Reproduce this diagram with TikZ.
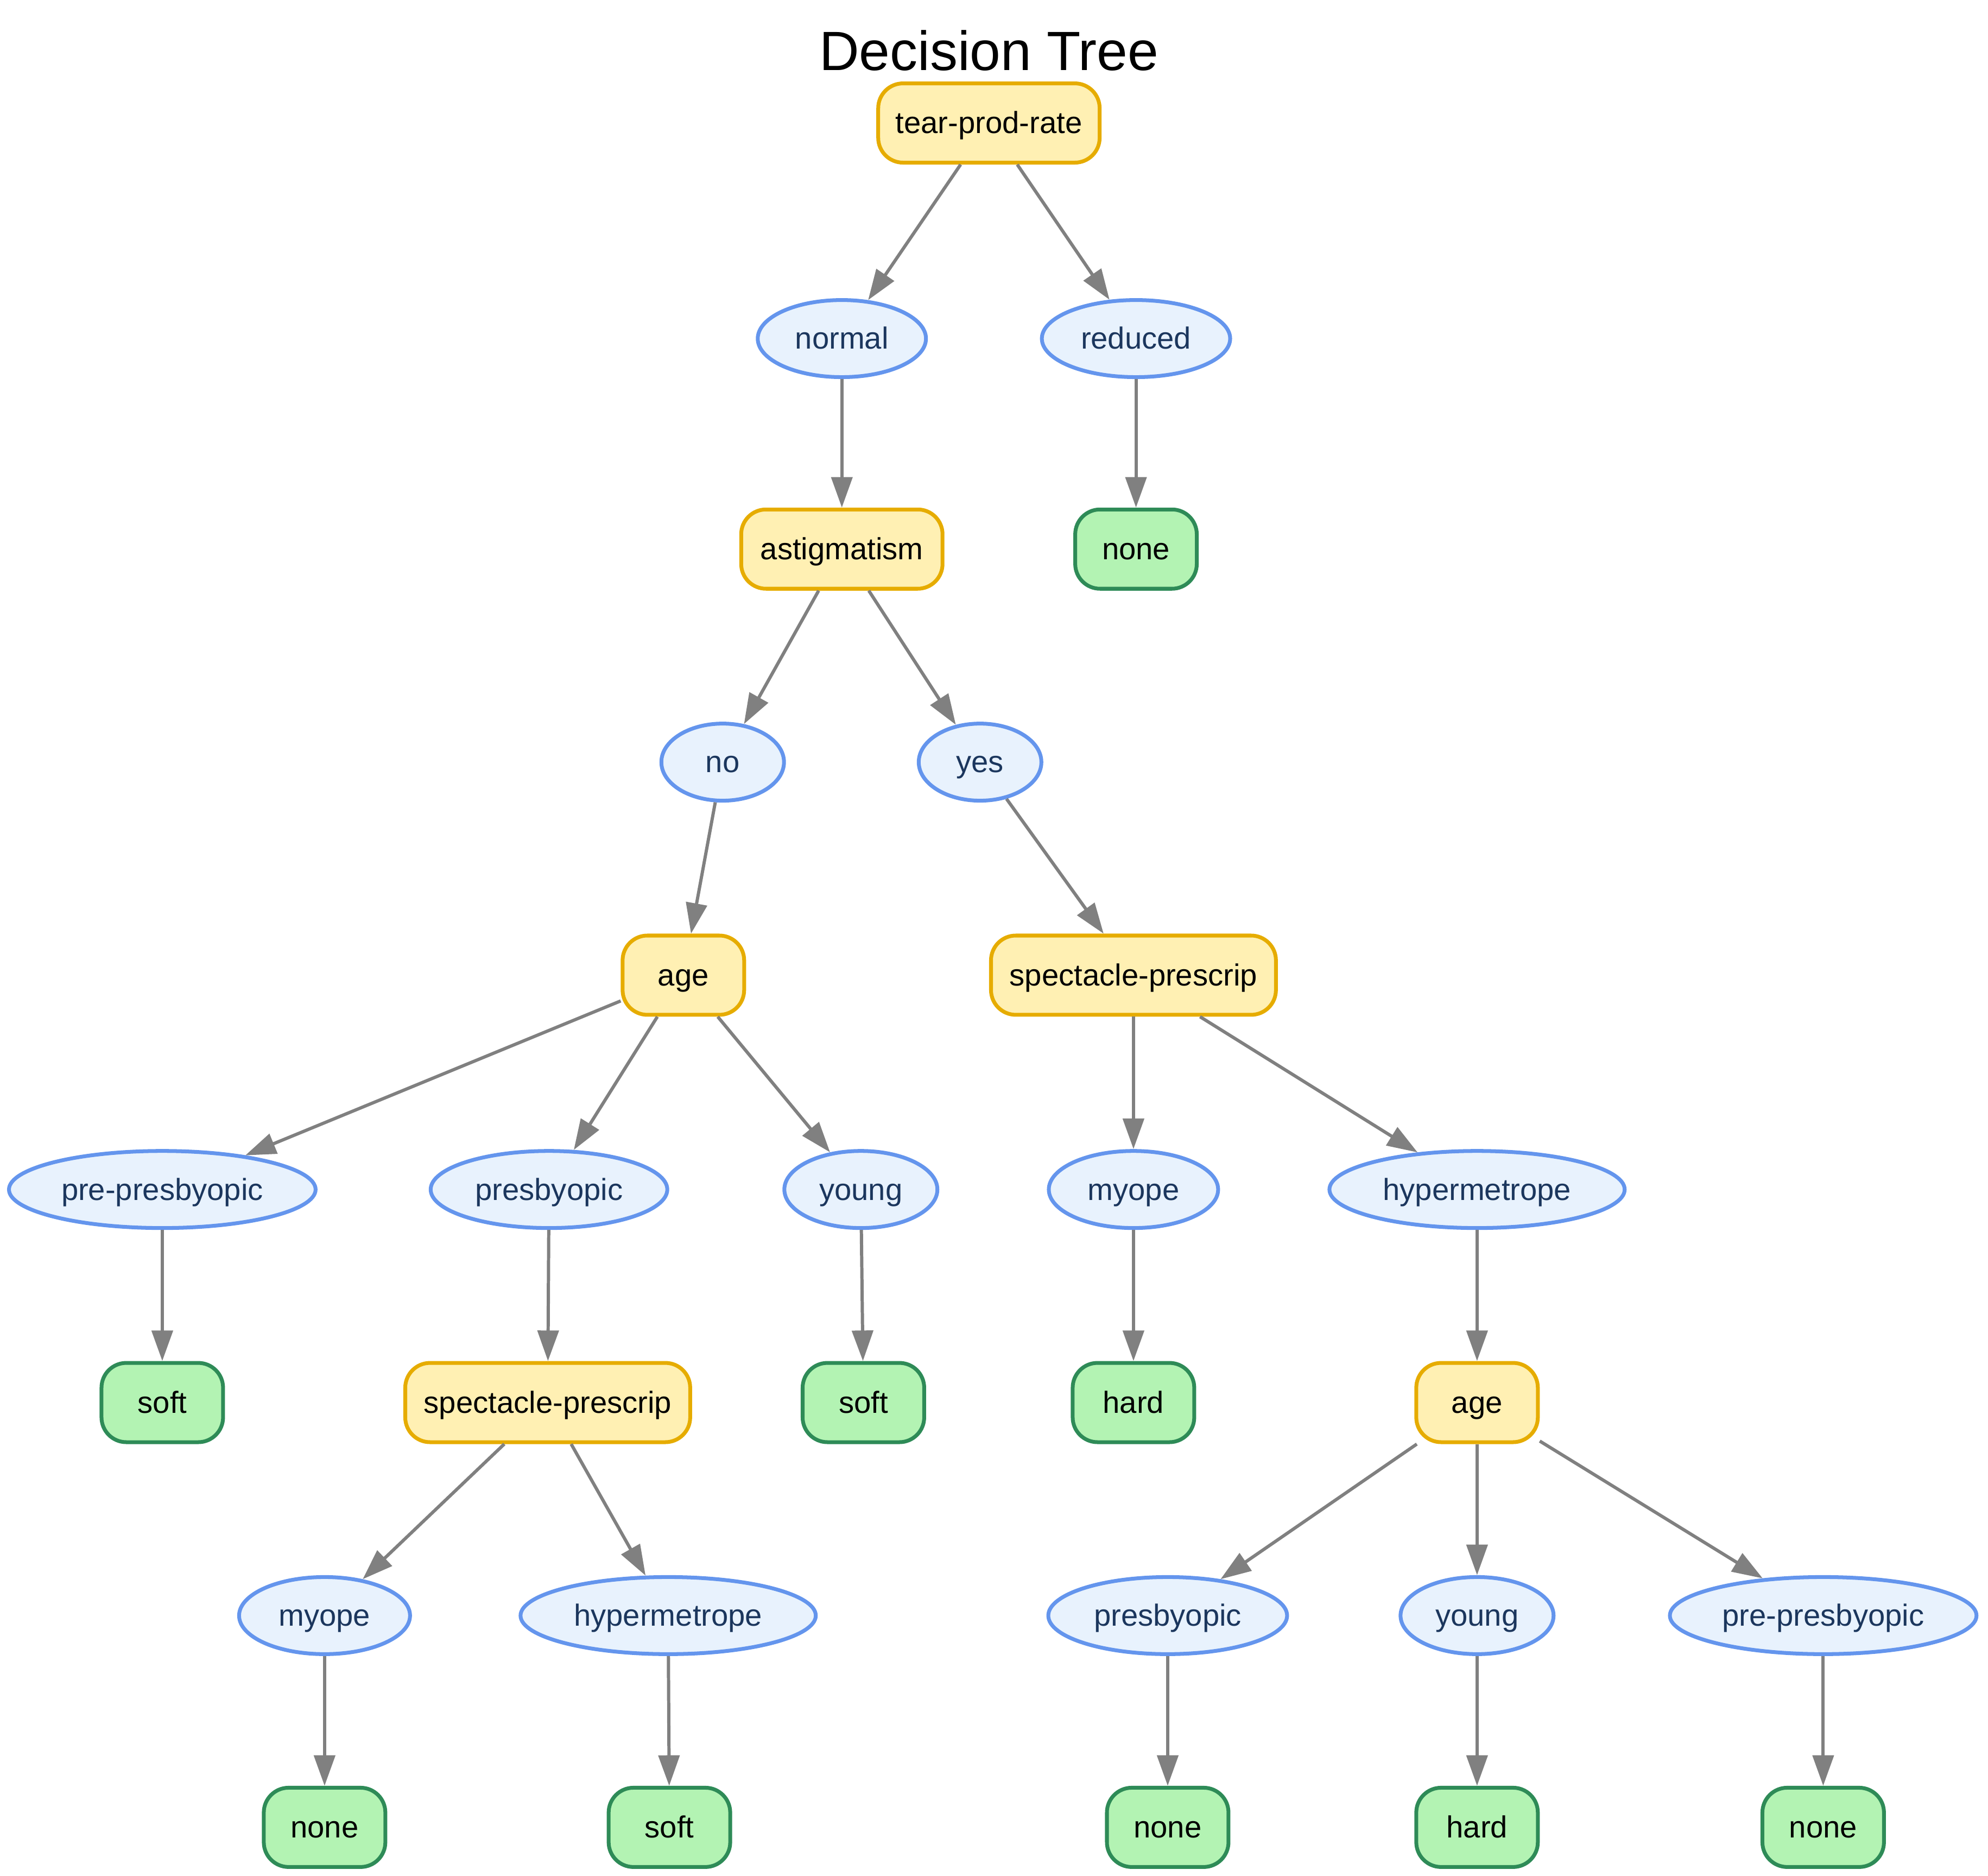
\documentclass[tikz,border=0pt]{standalone}
\usepackage{fontspec}
\setmainfont{Liberation Sans}
\usetikzlibrary{shapes.geometric,arrows.meta}
\definecolor{decfill}{HTML}{FFF0B3}
\definecolor{decdraw}{HTML}{E6AC00}
\definecolor{valfill}{HTML}{E8F2FD}
\definecolor{valdraw}{HTML}{6495ED}
\definecolor{valtext}{HTML}{1B365D}
\definecolor{leaffill}{HTML}{B3F3B3}
\definecolor{leafdraw}{HTML}{2E8B57}
\definecolor{edgecol}{HTML}{808080}
\tikzset{
  lbl/.style={font=\fontsize{16}{19}\selectfont, text height=13pt, text depth=2pt, inner sep=0pt},
  decision/.style={lbl, rectangle, rounded corners=13pt, draw=decdraw, fill=decfill, line width=2pt,
    minimum height=1.46cm, minimum width=2.24cm, text=black},
  leafbox/.style={lbl, rectangle, rounded corners=13pt, draw=leafdraw, fill=leaffill, line width=2pt,
    minimum height=1.46cm, minimum width=2.24cm, text=black},
  val/.style={lbl, ellipse, draw=valdraw, fill=valfill, line width=2pt,
    minimum height=1.42cm, text=valtext},
  edge/.style={draw=edgecol, line width=1.7pt, -{Triangle[length=16pt,width=11pt]}},
  titlestyle/.style={font=\fontsize{29}{34}\selectfont, text=black}
}
\begin{document}
\begin{tikzpicture}[x=0.023355cm, y=-0.023355cm]
\useasboundingbox (0,0) rectangle (1568,1479);
\node[titlestyle] (title) at (780,40) {Decision Tree};
\node[decision, minimum width=4.08cm] (tpr) at (780,97) {tear-prod-rate};
\node[val, minimum width=3.10cm] (normal) at (664,267) {normal};
\node[val, minimum width=3.47cm] (reduced) at (896,267) {reduced};
\node[decision, minimum width=3.71cm] (astig) at (664,433) {astigmatism};
\node[leafbox] (none1) at (896,433) {none};
\node[val, minimum width=2.26cm] (no) at (570,601) {no};
\node[val, minimum width=2.26cm] (yes) at (773,601) {yes};
\node[decision] (age1) at (539,769) {age};
\node[decision, minimum width=5.25cm] (spec1) at (894,769) {spectacle-prescrip};
\node[val, minimum width=5.65cm] (prep1) at (128,938) {pre-presbyopic};
\node[val, minimum width=4.36cm] (presb1) at (433,938) {presbyopic};
\node[val, minimum width=2.82cm] (young1) at (679,938) {young};
\node[val, minimum width=3.12cm] (myope1) at (894,938) {myope};
\node[val, minimum width=5.44cm] (hyper1) at (1165,938) {hypermetrope};
\node[leafbox] (soft1) at (128,1106) {soft};
\node[decision, minimum width=5.25cm] (spec2) at (432,1106) {spectacle-prescrip};
\node[leafbox] (soft2) at (681,1106) {soft};
\node[leafbox] (hard1) at (894,1106) {hard};
\node[decision] (age2) at (1165,1106) {age};
\node[val, minimum width=3.15cm] (myope2) at (256,1274) {myope};
\node[val, minimum width=5.44cm] (hyper2) at (527,1274) {hypermetrope};
\node[val, minimum width=4.40cm] (presb2) at (921,1274) {presbyopic};
\node[val, minimum width=2.82cm] (young2) at (1165,1274) {young};
\node[val, minimum width=5.65cm] (prep2) at (1438,1274) {pre-presbyopic};
\node[leafbox] (none2) at (256,1441) {none};
\node[leafbox] (soft3) at (528,1441) {soft};
\node[leafbox] (none3) at (921,1441) {none};
\node[leafbox] (hard2) at (1165,1441) {hard};
\node[leafbox] (none4) at (1438,1441) {none};
\draw[edge] (tpr) -- (normal);
\draw[edge] (tpr) -- (reduced);
\draw[edge] (normal) -- (astig);
\draw[edge] (reduced) -- (none1);
\draw[edge] (astig) -- (no);
\draw[edge] (astig) -- (yes);
\draw[edge] (no) -- (age1);
\draw[edge] (yes) -- (spec1);
\draw[edge] (age1) -- (prep1);
\draw[edge] (age1) -- (presb1);
\draw[edge] (age1) -- (young1);
\draw[edge] (spec1) -- (myope1);
\draw[edge] (spec1) -- (hyper1);
\draw[edge] (prep1) -- (soft1);
\draw[edge] (presb1) -- (spec2);
\draw[edge] (young1) -- (soft2);
\draw[edge] (myope1) -- (hard1);
\draw[edge] (hyper1) -- (age2);
\draw[edge] (spec2) -- (myope2);
\draw[edge] (spec2) -- (hyper2);
\draw[edge] (age2) -- (presb2);
\draw[edge] (age2) -- (young2);
\draw[edge] (age2) -- (prep2);
\draw[edge] (myope2) -- (none2);
\draw[edge] (hyper2) -- (soft3);
\draw[edge] (presb2) -- (none3);
\draw[edge] (young2) -- (hard2);
\draw[edge] (prep2) -- (none4);
\end{tikzpicture}
\end{document}
